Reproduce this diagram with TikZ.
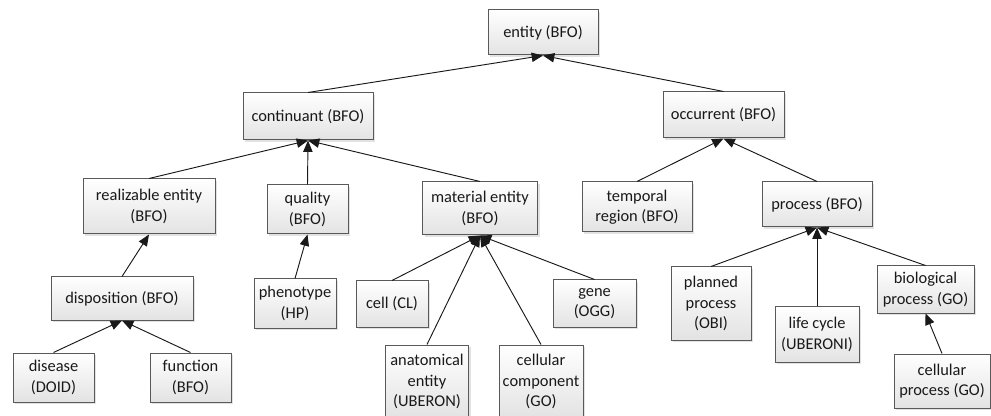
\documentclass[tikz,border=0pt]{standalone}
\usepackage{fontspec}
\setmainfont{Carlito}
\usetikzlibrary{arrows.meta,shadows}
\tikzset{
  bx/.style n args={2}{draw=black!65, line width=0.75pt, top color=white, bottom color=black!11,
    drop shadow={shadow xshift=1.6pt, shadow yshift=-1.6pt, fill=black!22},
    inner sep=0pt, align=center, text=black!90,
    font=\fontsize{12.3}{15.2}\selectfont,
    minimum width=#1*0.75pt, minimum height=#2*0.75pt},
  isa/.style={draw=black!90, line width=0.7pt, -{Triangle[length=8.5pt,width=7pt]}}
}
\begin{document}
\begin{tikzpicture}[x=0.75pt,y=-0.75pt]
\useasboundingbox (0,0) rectangle (991,416);
\clip (0,0) rectangle (991,416);
\fill[white] (0,0) rectangle (991,416);
% row 0
\node[bx={110}{45}] (entity) at (543,32.5) {entity (BFO)};
% row 1
\node[bx={130}{47}] (cont) at (308,116.5) {continuant (BFO)};
\node[bx={121}{46}] (occ) at (723.5,115) {occurrent (BFO)};
% row 2
\node[bx={132}{55}] (real) at (149,206.5) {realizable entity\\(BFO)};
\node[bx={81}{49}] (qual) at (307.5,209.5) {quality\\(BFO)};
\node[bx={115}{53}] (mat) at (480,208.5) {material entity\\(BFO)};
\node[bx={110}{50}] (temp) at (637,207) {temporal\\region (BFO)};
\node[bx={110}{45}] (proc) at (817,204.5) {process (BFO)};
% row 3
\node[bx={142}{43}] (disp) at (122,298.5) {disposition (BFO)};
\node[bx={82}{49}] (pheno) at (295,303.5) {phenotype\\(HP)};
\node[bx={72}{46}] (cell) at (392,304) {cell (CL)};
\node[bx={83}{47}] (gene) at (594.5,303.5) {gene\\(OGG)};
\node[bx={80}{73}] (plan) at (711,303.5) {planned\\process\\(OBI)};
\node[bx={84}{55}] (life) at (817,334.5) {life cycle\\(UBERONI)};
\node[bx={97}{47}] (bio) at (925.5,289.5) {biological\\process (GO)};
% row 4
\node[bx={81}{49}] (dis) at (53.5,377.5) {disease\\(DOID)};
\node[bx={81}{49}] (func) at (190.5,377.5) {function\\(BFO)};
\node[bx={83}{73}] (anat) at (427,381.5) {anatomical\\entity\\(UBERON)};
\node[bx={84}{73}] (ccomp) at (541,381.5) {cellular\\component\\(GO)};
\node[bx={96}{54}] (cproc) at (942,381) {cellular\\process (GO)};
% connectors
\draw[isa] (cont.north) -- (entity.south);
\draw[isa] (occ.north) -- (entity.south);
\draw[isa] (real.north) -- (cont.south);
\draw[isa] (qual.north) -- (cont.south);
\draw[isa] (mat.north) -- (cont.south);
\draw[isa] (temp.north) -- (occ.south);
\draw[isa] (proc.north) -- (occ.south);
\draw[isa] (disp.north) -- (real.south);
\draw[isa] (pheno.north) -- (qual.south);
\draw[isa] (cell.north) -- (mat.south);
\draw[isa] (anat.north) -- (mat.south);
\draw[isa] (ccomp.north) -- (mat.south);
\draw[isa] (gene.north) -- (mat.south);
\draw[isa] (plan.north) -- (proc.south);
\draw[isa] (life.north) -- (proc.south);
\draw[isa] (bio.north) -- (proc.south);
\draw[isa] (dis.north) -- (disp.south);
\draw[isa] (func.north) -- (disp.south);
\draw[isa] (cproc.north) -- (bio.south);
\end{tikzpicture}
\end{document}
